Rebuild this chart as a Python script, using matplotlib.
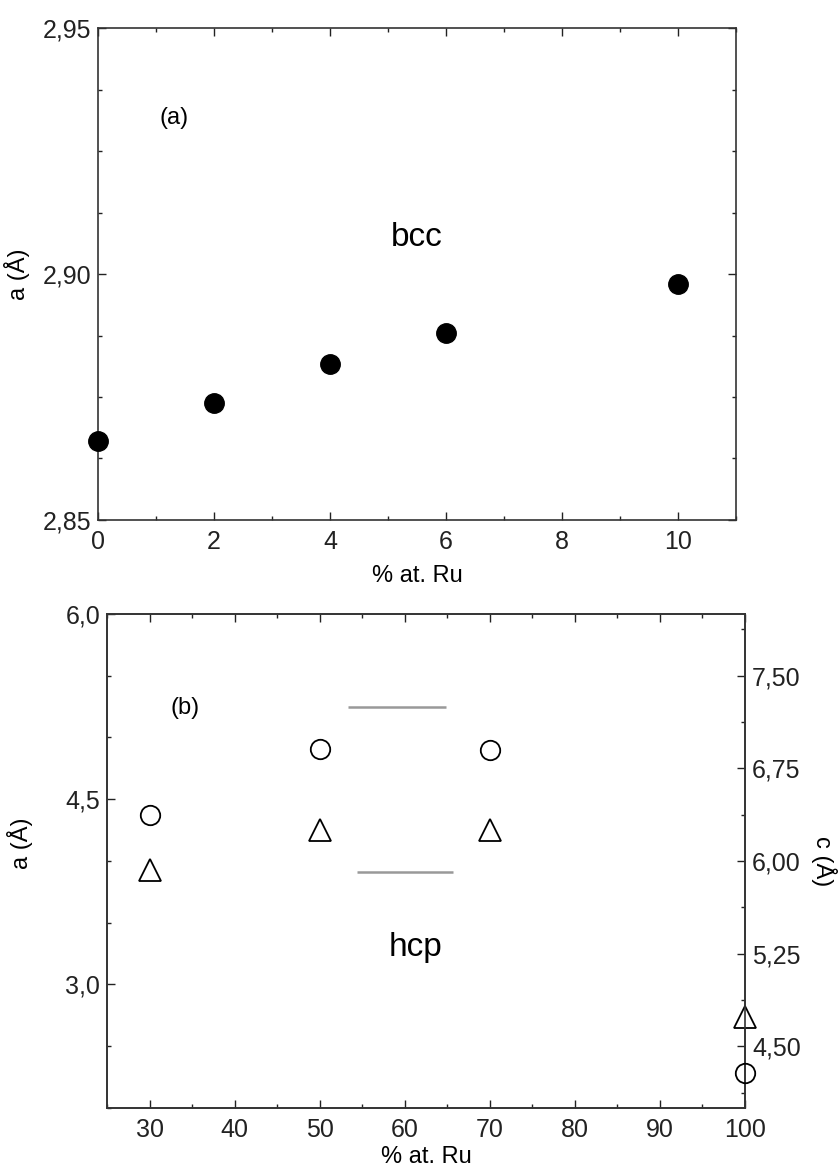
import matplotlib.pyplot as plt
from matplotlib.ticker import MultipleLocator, FuncFormatter

plt.rcParams['font.family'] = ['Liberation Sans', 'DejaVu Sans']

# (a) bcc lattice parameter
bcc_ru = [0, 2, 4, 6, 10]
bcc_a = [2.866, 2.8738, 2.8817, 2.888, 2.898]

# (b) hcp lattice parameters
hcp_ru = [30, 50, 70, 100]
hcp_a = [3.93, 4.25, 4.25, 2.733]
hcp_c = [6.372, 6.907, 6.90, 4.283]

# grey bars drawn inside panel (b)
bar_y = [5.25, 3.91]
bar_x0 = [53.3, 54.4]
bar_x1 = [64.9, 65.7]


def comma(fmt):
    return FuncFormatter(lambda v, p: (fmt % v).replace('.', ','))


def style(ax, right=True):
    ax.tick_params(which='both', direction='in', top=True, right=right,
                   labelsize=18, colors='#222222', width=1.0)
    ax.tick_params(which='major', length=5.5, pad=5)
    ax.tick_params(which='minor', length=3)
    ax.tick_params(axis='x', which='major', pad=7)
    for s in ax.spines.values():
        s.set_linewidth(1.2)
        s.set_color('#333333')


fig = plt.figure(figsize=(8.38, 11.69), dpi=100)

ax1 = fig.add_axes([0.1169, 0.5552, 0.7614, 0.4208])
ax1.plot(bcc_ru, bcc_a, 'o', color='black', markersize=14, clip_on=False, zorder=5)
ax1.set_xlim(0, 11)
ax1.set_ylim(2.85, 2.95)
ax1.xaxis.set_major_locator(MultipleLocator(2))
ax1.xaxis.set_minor_locator(MultipleLocator(1))
ax1.yaxis.set_major_locator(MultipleLocator(0.05))
ax1.yaxis.set_minor_locator(MultipleLocator(0.0125))
ax1.yaxis.set_major_formatter(comma('%.2f'))
style(ax1)
ax1.set_xlabel('% at. Ru', fontsize=17, labelpad=8)
ax1.set_ylabel('a (Å)', fontsize=17, labelpad=9)
ax1.text(0.12, 0.817, '(a)', transform=ax1.transAxes, fontsize=17,
         ha='center', va='center')
ax1.text(0.50, 0.575, 'bcc', transform=ax1.transAxes, fontsize=24,
         ha='center', va='center')

ax2 = fig.add_axes([0.1277, 0.0522, 0.7613, 0.4226])
ax3 = ax2.twinx()
ax2.plot(hcp_ru, hcp_a, '^', mfc='white', mec='black', mew=1.3,
         markersize=16, clip_on=False, zorder=5)
ax3.plot(hcp_ru, hcp_c, 'o', mfc='none', mec='black', mew=1.3,
         markersize=14, clip_on=False, zorder=5)
ax2.hlines(bar_y, bar_x0, bar_x1, color='#999999', lw=1.8)
ax2.set_xlim(25, 100)
ax2.set_ylim(2.0, 6.0)
ax3.set_ylim(4.0, 8.0)
ax2.xaxis.set_major_locator(MultipleLocator(10))
ax2.xaxis.set_minor_locator(MultipleLocator(5))
ax2.yaxis.set_major_locator(MultipleLocator(1.5))
ax2.yaxis.set_minor_locator(MultipleLocator(0.5))
ax2.yaxis.set_major_formatter(comma('%.1f'))
ax3.yaxis.set_major_locator(MultipleLocator(0.75))
ax3.yaxis.set_minor_locator(MultipleLocator(0.375))
ax3.yaxis.set_major_formatter(comma('%.2f'))
style(ax2, right=False)
style(ax3)
ax3.tick_params(which='both', direction='in', top=False)
ax2.set_xlabel('% at. Ru', fontsize=17, labelpad=3)
ax2.set_ylabel('a (Å)', fontsize=17)
ax2.yaxis.set_label_coords(-0.116, 0.536)
ax3.set_ylabel('c (Å)', fontsize=17, rotation=270, labelpad=26)
ax2.text(0.122, 0.81, '(b)', transform=ax2.transAxes, fontsize=17,
         ha='center', va='center')
ax2.text(0.483, 0.324, 'hcp', transform=ax2.transAxes, fontsize=24,
         ha='center', va='center')

fig.savefig('out.png', dpi=100)
